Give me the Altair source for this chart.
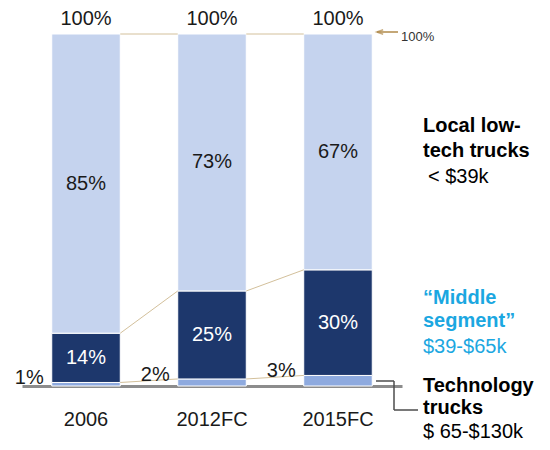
import altair as alt
import pandas as pd

categories = ["2006", "2012FC", "2015FC"]
tech = [1, 2, 3]
middle = [14, 25, 30]
local = [85, 73, 67]
totals = [100, 100, 100]

segments = ["Technology", "Middle", "Local"]
seg_colors = ["#8eaadf", "#1d376c", "#c5d3ee"]

FONT = "Liberation Sans"
FS = 20

# ---- bar table (stacked from the arrays) ----
rows = []
for i, c in enumerate(categories):
    base = 0
    for s, vals in zip(segments, [tech, middle, local]):
        v = vals[i]
        rows.append({"cat": c, "seg": s, "value": v, "y0": base, "y1": base + v,
                     "mid": base + v / 2, "label": f"{v}%"})
        base += v
bars_df = pd.DataFrame(rows)

tot_df = pd.DataFrame({"cat": categories, "total": totals,
                       "label": [f"{t}%" for t in totals]})

# ---- connector lines between bars ----
levels = {
    "tech": tech,
    "dark": [t + m for t, m in zip(tech, middle)],
    "top": totals,
}
conn = []
for i in range(len(categories) - 1):
    for k, lv in levels.items():
        conn.append({"c_from": categories[i], "c_to": categories[i + 1],
                     "v0": lv[i], "v1": lv[i + 1], "level": k})
conn_df = pd.DataFrame(conn)

xscale = alt.Scale(domain=categories, paddingInner=0.456, paddingOuter=0.236)
yscale = alt.Scale(domain=[0, 100], nice=False, zero=True)
xaxis = alt.Axis(title=None, labelAngle=0, ticks=False, labelFontSize=FS,
                 labelColor="#1a1a1a", labelFont=FONT, labelPadding=23,
                 domainColor="#8c8c8c", domainWidth=3)

bars = alt.Chart(bars_df).mark_bar(stroke="white", strokeWidth=1).encode(
    x=alt.X("cat:N", scale=xscale, sort=categories, axis=xaxis),
    y=alt.Y("y0:Q", scale=yscale, axis=None),
    y2="y1:Q",
    color=alt.Color("seg:N", scale=alt.Scale(domain=segments, range=seg_colors), legend=None),
)

connectors = alt.Chart(conn_df).mark_rule(color="#d3c09b", strokeWidth=1).encode(
    x=alt.X("c_from:N", scale=xscale, sort=categories, bandPosition=1, axis=xaxis),
    x2=alt.X2("c_to:N", bandPosition=0),
    y=alt.Y("v0:Q", scale=yscale, axis=None),
    y2="v1:Q",
)

inner = alt.Chart(bars_df).transform_filter(
    alt.datum.seg != "Technology"
).mark_text(fontSize=FS, font=FONT, baseline="middle", align="center").encode(
    x=alt.X("cat:N", scale=xscale, sort=categories, axis=xaxis),
    y=alt.Y("mid:Q", scale=yscale, axis=None),
    text="label:N",
    color=alt.condition(alt.datum.seg == "Middle", alt.value("#ffffff"), alt.value("#1a1a1a")),
)

small = alt.Chart(bars_df).transform_filter(
    alt.datum.seg == "Technology"
).mark_text(fontSize=FS, font=FONT, baseline="alphabetic", align="right", dx=-8, dy=2,
            color="#1a1a1a").encode(
    x=alt.X("cat:N", scale=xscale, sort=categories, bandPosition=0, axis=xaxis),
    y=alt.Y("y1:Q", scale=yscale, axis=None),
    text="label:N",
)

top = alt.Chart(tot_df).mark_text(fontSize=FS, font=FONT, baseline="alphabetic", align="center",
                                  dy=-9, color="#1a1a1a").encode(
    x=alt.X("cat:N", scale=xscale, sort=categories, axis=xaxis),
    y=alt.Y("total:Q", scale=yscale, axis=None),
    text="label:N",
)

# ---- annotations ----
def note(txt, x, y, size=FS, bold=True, color="#000000"):
    return alt.Chart(pd.DataFrame({"t": [txt]})).mark_text(
        align="left", baseline="alphabetic", fontSize=size, font=FONT,
        fontWeight="bold" if bold else "normal", color=color
    ).encode(x=alt.value(x), y=alt.value(y), text="t:N")

cyan = "#1ba7e1"
notes = [
    note("Local low-", 401, 98),
    note("tech trucks", 401, 123),
    note("< $39k", 406, 149, bold=False),
    note("\u201cMiddle", 401, 270, color=cyan),
    note("segment\u201d", 401, 293, color=cyan),
    note("$39-$65k", 401, 319, bold=False, color=cyan),
    note("Technology", 401, 358),
    note("trucks", 401, 380),
    note("$ 65-$130k", 401, 404, bold=False),
    note("100%", 379, 6.5, size=13, bold=False, color="#333333"),
]

def seg(x1, y1, x2, y2, color="#4d4d4d", w=1.5):
    return alt.Chart(pd.DataFrame({"a": [0]})).mark_rule(color=color, strokeWidth=w).encode(
        x=alt.value(x1), y=alt.value(y1), x2=alt.value(x2), y2=alt.value(y2))

bracket = [
    seg(354, 347, 372, 347),
    seg(372, 347, 372, 376),
    seg(372, 376, 396, 376),
]
arrow_col = "#b08a4a"
arrow = [
    seg(355, -2, 376, -2, color=arrow_col, w=1.5),
    alt.Chart(pd.DataFrame({"a": [0]})).mark_point(
        shape="M1,-0.7L-1,0L1,0.7", filled=False, color=arrow_col, strokeWidth=1.5, size=40
    ).encode(x=alt.value(358), y=alt.value(-2)),
]

chart = alt.layer(bars, connectors, inner, small, top, *notes, *bracket, *arrow).properties(
    width=380, height=352,
    autosize=alt.AutoSizeParams(type="none"),
    padding={"left": 14, "top": 26, "right": 140, "bottom": 56},
).configure_view(stroke=None)

chart.save("out.html", embed_options={"renderer": "svg", "actions": False})
